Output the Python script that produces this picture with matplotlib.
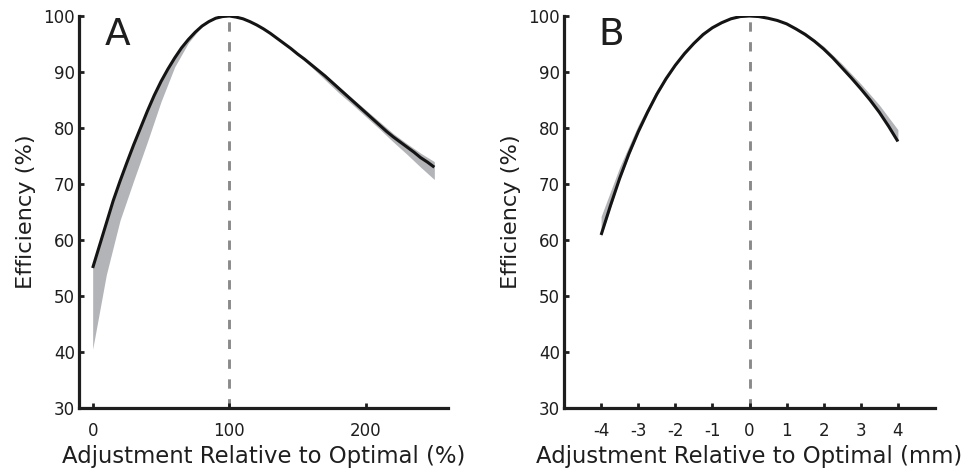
import numpy as np
import matplotlib
matplotlib.use("Agg")
import matplotlib.pyplot as plt

# panel A: adjustment as percent of optimal
adj_pct = [0, 5, 10, 15, 20, 25, 30, 35, 40, 45, 50, 55, 60, 65, 70, 75, 80, 85, 90, 95,
           100, 105, 110, 115, 120, 125, 130, 135, 140, 145, 150, 155, 160, 165, 170, 175,
           180, 185, 190, 195, 200, 205, 210, 215, 220, 225, 230, 235, 240, 245, 250]
eff_pct = [55.0, 59.0, 63.0, 67.0, 70.5, 73.8, 77.0, 80.0, 83.0, 85.8, 88.3, 90.5, 92.5,
           94.3, 95.8, 97.1, 98.2, 99.0, 99.6, 99.9, 100.0, 99.8, 99.5, 99.0, 98.4, 97.7,
           96.9, 96.0, 95.1, 94.2, 93.2, 92.3, 91.3, 90.3, 89.3, 88.2, 87.1, 86.0, 84.9,
           83.8, 82.7, 81.6, 80.5, 79.4, 78.4, 77.5, 76.6, 75.7, 74.7, 73.9, 73.0]

band_pct_x = [0, 10, 20, 30, 40, 50, 60, 70, 80, 90, 100, 110, 120, 130, 140, 150, 160,
              170, 180, 190, 200, 210, 220, 230, 240, 250]
band_pct_lo = [40.5, 53.8, 63.5, 70.6, 77.5, 84.7, 90.9, 95.2, 98.2, 99.6, 100.0, 99.5,
               98.4, 96.9, 95.0, 93.0, 90.9, 88.6, 86.3, 84.2, 82.0, 79.8, 77.5, 75.3,
               73.0, 70.8]
band_pct_hi = [55.0, 63.0, 70.5, 77.0, 83.0, 88.3, 92.5, 95.8, 98.2, 99.6, 100.0, 99.5,
               98.4, 96.9, 95.1, 93.2, 91.4, 89.6, 87.4, 85.3, 83.2, 81.1, 79.0, 77.2,
               75.5, 74.0]

# panel B: adjustment in mm
adj_mm = [-4, -3.75, -3.5, -3.25, -3, -2.75, -2.5, -2.25, -2, -1.75, -1.5, -1.25, -1,
          -0.75, -0.5, -0.25, 0, 0.25, 0.5, 0.75, 1, 1.25, 1.5, 1.75, 2, 2.25, 2.5, 2.75,
          3, 3.25, 3.5, 3.75, 4]
eff_mm = [60.9, 66.1, 71.0, 75.4, 79.3, 82.8, 86.0, 88.8, 91.2, 93.3, 95.1, 96.7, 97.9,
          98.8, 99.5, 99.9, 100.0, 99.9, 99.6, 99.2, 98.6, 97.7, 96.7, 95.5, 94.1, 92.5,
          90.7, 88.9, 87.0, 85.0, 82.8, 80.3, 77.6]

band_mm_x = [-4, -3.5, -3, -2.5, -2, -1.5, -1, -0.5, 0, 0.5, 1, 1.5, 2, 2.5, 3, 3.5, 4]
band_mm_lo = [60.6, 70.8, 79.2, 85.9, 91.1, 95.0, 97.9, 99.5, 100.0, 99.6, 98.6, 96.7,
              94.1, 90.7, 87.0, 82.8, 77.5]
band_mm_hi = [64.2, 73.0, 80.5, 86.8, 91.7, 95.4, 98.1, 99.6, 100.0, 99.7, 98.8, 97.1,
              94.6, 91.4, 87.9, 84.1, 79.7]

plt.rcParams['font.family'] = ['DejaVu Sans']
ink = '#1e1e1e'

fig = plt.figure(figsize=(9.76, 4.69), dpi=100)
ax_a = fig.add_axes([79 / 976, 1 - 408 / 469, 369 / 976, 392 / 469])
ax_b = fig.add_axes([564 / 976, 1 - 408 / 469, 371 / 976, 392 / 469])


def style(ax, xlim, xticks, xlabel, letter, letter_x):
    ax.set_xlim(*xlim)
    ax.set_ylim(30, 100)
    ax.set_xticks(xticks)
    ax.set_yticks(range(30, 101, 10))
    for s in ['top', 'right']:
        ax.spines[s].set_visible(False)
    for s in ['left', 'bottom']:
        ax.spines[s].set_linewidth(2.3)
        ax.spines[s].set_color(ink)
    ax.tick_params(direction='in', length=3.5, width=2, colors=ink, labelsize=12)
    ax.tick_params(axis='x', pad=10)
    ax.tick_params(axis='y', pad=3)
    ax.set_xlabel(xlabel, fontsize=16.4, color=ink, labelpad=4)
    ax.set_ylabel('Efficiency (%)', fontsize=16.2, color=ink, labelpad=5)
    ax.text(letter_x, 0.926, letter, transform=ax.transAxes, fontsize=27,
            color=ink, ha='left', va='baseline')


# A
ax_a.fill_between(band_pct_x, band_pct_lo, band_pct_hi, color='#b3b4b8', lw=0)
ax_a.plot([100, 100], [30, 100], color='#8a8a8a', lw=2.1, dashes=(3.2, 3.6), zorder=1)
ax_a.plot(adj_pct, eff_pct, color='#141414', lw=2.2, solid_capstyle='butt')
style(ax_a, (-10, 260), [0, 100, 200], 'Adjustment Relative to Optimal (%)', 'A', 0.07)

# B
ax_b.fill_between(band_mm_x, band_mm_lo, band_mm_hi, color='#b3b4b8', lw=0)
ax_b.plot([0, 0], [30, 100], color='#8a8a8a', lw=2.1, dashes=(3.2, 3.6), zorder=1)
ax_b.plot(adj_mm, eff_mm, color='#141414', lw=2.2, solid_capstyle='butt')
style(ax_b, (-5, 5), range(-4, 5), 'Adjustment Relative to Optimal (mm)', 'B', 0.092)
ax_b.set_xticklabels([str(t) for t in range(-4, 5)])

fig.savefig('out.png', dpi=100)
